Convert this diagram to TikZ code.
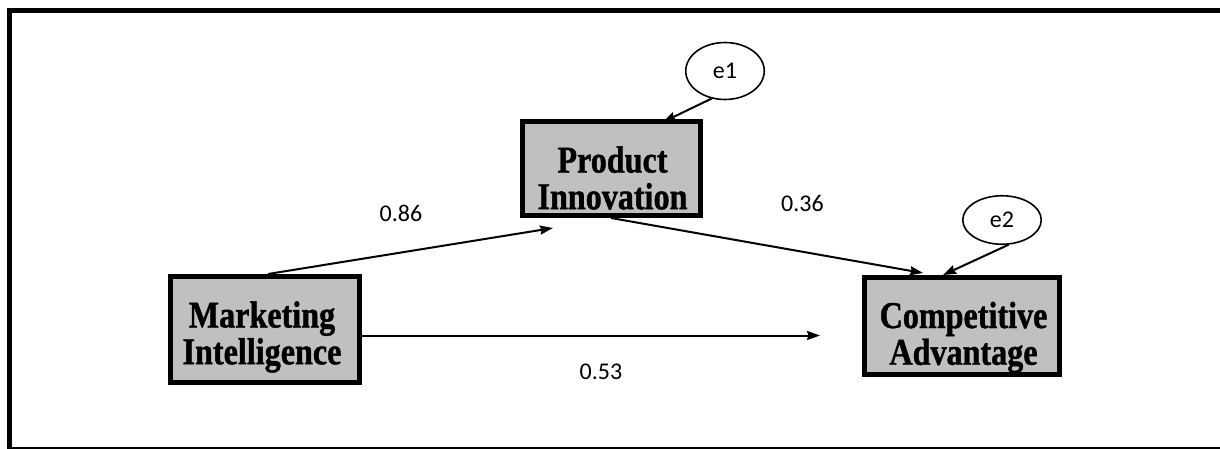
\documentclass[tikz,border=0pt]{standalone}
\usepackage{fontspec}
\setmainfont{Liberation Serif}
\newfontfamily\lblfont{Carlito}
\newfontfamily\capfont[FakeBold=1.2]{Liberation Serif Bold}
\usetikzlibrary{arrows.meta,shapes.geometric}

\definecolor{boxgray}{HTML}{C0C0C0}

% two-line bold caption for a variable box, slightly condensed
\newcommand{\varcaption}[2]{\scalebox{0.85}[1]{\capfont\fontsize{37.8}{35}\selectfont
  \begin{tabular}{@{}c@{}}#1\\#2\end{tabular}}}

\tikzset{
  varbox/.style={draw, line width=5pt, fill=boxgray, inner sep=0pt},
  captiontext/.style={inner sep=0pt},
  errterm/.style={draw, ellipse, line width=1.6pt, inner sep=0pt,
    font=\lblfont\fontsize{24}{28}\selectfont},
  coef/.style={inner sep=0pt, font=\lblfont\fontsize{24}{28}\selectfont},
  path/.style={line width=2pt, -{Stealth[length=13pt,width=9pt,inset=1.5pt]}},
}

\begin{document}
\begin{tikzpicture}[x=1pt,y=1pt]
\useasboundingbox (0,0) rectangle (1220,448);

% outer frame
\draw[line width=5pt] (9.5,-1) -- (9.5,437.5) -- (1230,437.5);
\draw[line width=5pt] (9.5,-1) -- (1230,-1);

% observed variables
\node[varbox, minimum width=189pt, minimum height=106pt] (MI) at (265,118.5) {};
\node[varbox, minimum width=178pt, minimum height=94pt] (PI) at (611,279.5) {};
\node[varbox, minimum width=195pt, minimum height=97pt] (CA) at (962,122) {};

\node[captiontext] (MIcap) at (262,110) {\varcaption{Marketing}{Intelligence}};
\node[captiontext] (PIcap) at (612.5,265) {\varcaption{Product}{Innovation}};
\node[captiontext] (CAcap) at (963.5,109.5) {\varcaption{Competitive}{Advantage}};

% error terms
\node[errterm, minimum width=78.5pt, minimum height=57pt] (e1) at (725,377) {e1};
\node[errterm, minimum width=78.5pt, minimum height=48.5pt] (e2) at (1002,228) {e2};

% paths
\draw[path] ([xshift=3pt]MI.north) -- ([xshift=-58pt,yshift=-10pt]PI.south);
\draw[path] (PI.south) -- ([xshift=-39pt,yshift=2pt]CA.north);
\draw[path] ([yshift=-6pt]MI.east) -- ([xshift=-42pt,yshift=-9.5pt]CA.west);
\draw[path] (e1.-116) -- ([xshift=52pt,yshift=-3pt]PI.north);
\draw[path] (e2.-75) -- ([xshift=-19pt]CA.north);

% path coefficients
\node[coef] (c86) at (401,234.5) {0.86};
\node[coef] (c36) at (802.5,244.5) {0.36};
\node[coef] (c53) at (601,76.5) {0.53};
\end{tikzpicture}
\end{document}
